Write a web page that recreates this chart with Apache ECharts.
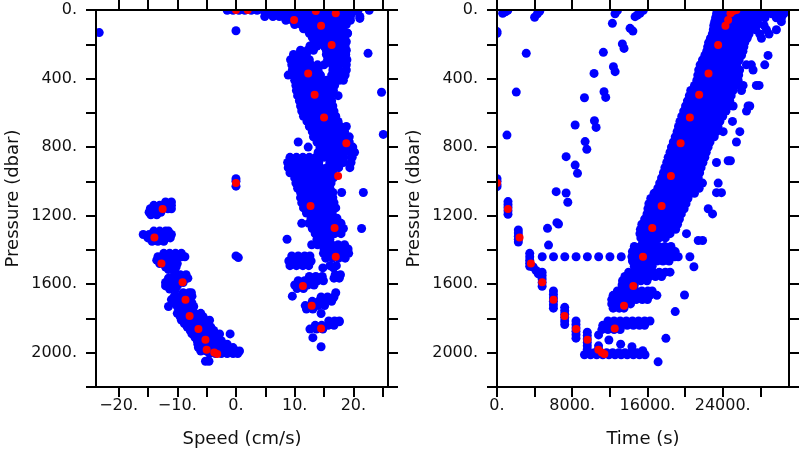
<!DOCTYPE html>
<html>
<head>
<meta charset="utf-8">
<script src="https://cdn.jsdelivr.net/npm/echarts@6/dist/echarts.min.js"></script>
<style>
html,body{margin:0;padding:0;background:#fff;}
#chart{width:800px;height:450px;}
</style>
</head>
<body>
<div id="chart"></div>
<script>
// ---------- tick / label values ----------
const pressureTicks = [0,200,400,600,800,1000,1200,1400,1600,1800,2000,2200];
const pressureLabels = [0,400,800,1200,1600,2000];
const speedTicks = [-20,-15,-10,-5,0,5,10,15,20,25];
const speedLabels = [-20,-10,0,10,20];
const timeTicks = [0,4000,8000,12000,16000,20000,24000,28000];
const timeLabels = [0,8000,16000,24000];

// ---------- red points (pressure, speed, time) ----------
const redPressure = [0,0,6,19,58,92,204,370,494,628,778,969,1010,1144,1272,1440,1611,1726,1858,1161,1327,1479,1588,1691,1786,1862,1924,1982,1998,2008];
const redSpeed = [0.0,2.0,13.6,17.0,9.9,14.5,16.3,12.3,13.4,15.0,18.8,17.4,0.0,12.7,16.8,17.0,11.4,12.9,14.5,-12.5,-13.9,-12.7,-9.1,-8.6,-7.9,-6.4,-5.2,-5.0,-3.7,-3.2];
const redTime = [25460,25200,25110,24830,24580,24290,23515,22493,21496,20510,19523,18493,0,17506,16510,15523,14495,13506,12520,1167,2400,3607,4806,6009,7175,8414,9613,10780,11141,11417];

// ---------- left panel blue: rows of [pressure, speed, speed, ...] ----------
const leftBandRows = [
[2,-1.5,-0.5,0.5,1.5,2.6,3.6,4.7,5.8,6.9,8.0,9.1,10.2,11.3,12.4,13.5,14.6,15.7,16.8,17.9,19.0,20.0,20.8,22.7],
[15,5.5,6.6,7.7,8.8,9.9,11.0,12.1,13.2,14.3,15.4,16.5,17.6,18.7,19.8],
[38,4.9,6.3,7.4,8.5,9.6,10.7,11.8,12.9,14.0,15.1,16.2,17.3,18.4,19.5,21.1],
[60,8.5,9.6,10.7,11.8,12.9,14.0,15.1,16.2,17.3,18.4,19.5],
[85,10.0,11.1,12.2,13.3,14.4,15.5,16.6,17.7,18.8],
[110,11.5,12.6,13.7,14.8,15.9,17.0,18.1],
[136,12.5,13.6,14.7,15.8,16.9,18.0,19.0],
[160,13.0,14.1,15.2,16.3,17.4,18.5],
[185,13.3,14.4,15.5,16.6,17.7,18.8],
[210,12.6,13.8,15.0,16.2,17.4,18.6],
[235,11.0,12.2,13.2,15.4,16.5,17.6,18.8],
[253,22.5],
[260,9.8,10.9,12.0,15.4,16.5,17.6,18.7],
[290,9.3,10.4,11.5,12.5,15.6,16.7,17.8,18.9],
[320,9.5,10.6,11.7,12.8,13.9,15.0,16.4,17.6,18.8],
[350,9.6,10.7,11.8,12.9,14.0,16.5,17.6,18.8],
[380,8.9,10.0,11.1,12.2,13.3,14.4,16.3,17.4,18.6],
[410,10.0,11.1,12.2,13.3,14.4,15.4,16.5,17.6,18.3],
[440,10.2,11.3,12.4,13.5,14.6,15.7,16.8],
[470,10.3,11.4,12.5,13.6,14.7,15.8,16.6],
[480,24.8],
[500,10.5,11.6,12.7,13.8,14.9,16.0,17.4],
[530,10.8,11.9,13.0,14.1,15.2,16.3],
[560,11.0,12.1,13.2,14.3,15.4,16.5],
[590,11.2,12.3,13.4,14.5,15.6,16.7],
[620,11.5,12.6,13.7,14.8,15.9,17.0],
[650,12.1,13.0,14.1,15.2,16.3,17.4],
[680,12.5,13.6,14.7,15.8,16.9,17.8,18.8],
[710,13.0,14.1,15.2,16.3,17.4,18.5],
[726,25.1],
[740,13.2,14.3,15.4,16.5,17.6,18.7,19.3],
[770,10.6,13.8,14.9,16.0,17.1,18.2,19.3],
[800,12.3,14.3,15.4,16.5,17.6,18.7,19.9],
[830,14.0,15.1,16.2,17.3,18.4,19.5,20.2],
[860,9.2,10.3,11.4,12.5,13.6,15.0,16.2,17.3,18.4,19.8],
[890,8.8,9.9,11.0,12.1,13.2,14.1,16.0,17.2,18.3,19.6],
[920,8.9,10.0,11.1,12.2,13.3,14.4,15.5,16.6,17.5,19.4],
[950,9.2,10.3,11.4,12.5,13.6,14.7,15.8,16.5],
[980,10.0,11.1,12.2,13.3,14.4,15.5,16.6],
[1010,10.2,11.3,12.4,13.5,14.6,15.7,16.2],
[1040,10.5,11.6,12.7,13.8,14.9,16.0],
[1065,11.0,12.1,13.2,14.3,15.4,16.5,18.0,21.7],
[1095,11.0,12.1,13.2,14.3,15.4,16.5],
[1125,11.2,12.3,13.4,14.5,15.6,16.7],
[1155,11.5,12.6,13.7,14.8,15.9,17.0],
[1185,12.0,13.1,14.2,15.3,16.4],
[1215,12.8,13.9,15.0,16.1,17.2],
[1245,11.2,12.4,13.5,14.6,15.7,16.8,17.9],
[1275,13.0,14.1,15.2,16.3,17.4,18.3,21.4],
[1305,13.5,14.6,15.7,16.8,17.9],
[1338,8.7,13.8,14.9,16.0],
[1370,12.9,13.9,15.2,16.3,17.4,18.5],
[1395,15.0,16.1,17.2,18.3,19.1],
[1420,14.9,16.0,17.1,18.2,19.2],
[1435,9.5,10.6,11.7,12.6],
[1448,15.3,16.4,17.5,18.6],
[1465,9.0,10.1,11.2,12.3,12.8],
[1492,9.2,10.3,11.4,12.4,16.0,17.1],
[1505,14.8,16.6],
[1545,16.9,17.8],
[1565,16.7,17.6],
[1555,12.5,13.6,14.7],
[1580,10.6,11.7,12.8,13.9,14.9],
[1605,10.0,11.1,12.2,13.3],
[1625,10.4,11.5],
[1650,17.0],
[1670,9.6],
[1675,14.5,15.6,16.7],
[1700,13.0,14.1,15.2,16.3],
[1725,11.8,12.9,14.0,15.1],
[1745,12.0,13.1],
[1771,14.5],
[1815,15.8,16.8,17.6],
[1840,13.5,14.6,15.7,16.7],
[1862,12.6,13.7,14.8],
[1912,13.1]
];

const leftNegRows = [
[1120,-12.0,-11.0],
[1140,-14.0,-13.0,-12.0,-11.0],
[1160,-14.6,-13.6,-12.6,-11.6,-11.0],
[1180,-14.8,-13.8,-12.8],
[1195,-14.5,-13.5],
[1290,-14.0,-13.0,-12.0,-11.5],
[1310,-15.8,-14.8,-13.8,-12.8,-11.8,-11.0],
[1330,-15.0,-14.0,-13.0,-12.0,-11.2],
[1350,-14.3,-13.3,-12.3],
[1420,-12.3,-11.3,-10.3,-9.3],
[1440,-13.3,-12.3,-11.3,-10.3,-9.3,-8.7],
[1460,-13.5,-12.5,-11.5,-10.5],
[1480,-13.0,-12.0,-11.0,-10.0],
[1500,-12.0,-11.0,-10.2],
[1515,-11.5,-10.5],
[1545,-10.5,-9.5,-8.5],
[1565,-11.5,-10.5,-9.5,-8.5,-8.2],
[1590,-12.0,-11.0,-10.0,-9.0],
[1610,-12.0,-11.0,-10.0],
[1628,-11.3,-10.3],
[1650,-9.0,-8.0,-7.6],
[1670,-10.5,-9.5,-8.5,-7.5],
[1690,-11.0,-10.0,-9.0,-8.0],
[1710,-10.5,-9.5,-8.5,-7.5],
[1730,-11.5,-10.0,-9.0,-8.0,-7.2],
[1750,-9.5,-8.5,-7.5],
[1770,-10.0,-9.0,-8.0,-7.0,-6.0],
[1790,-9.5,-8.5,-7.5,-6.5,-5.6],
[1810,-9.3,-8.3,-7.3,-6.3,-5.3,-4.5],
[1830,-8.8,-7.8,-6.8,-5.8,-4.8],
[1850,-8.3,-7.3,-6.3,-5.3,-4.3],
[1870,-7.8,-6.8,-5.8,-4.8,-3.8],
[1890,-7.5,-6.5,-5.5,-4.5,-3.5,-2.8,-1.0],
[1910,-7.0,-6.0,-5.0,-4.0,-3.0],
[1930,-6.6,-5.6,-4.6,-3.6,-2.5],
[1950,-6.5,-5.5,-4.5,-3.5,-2.5,-1.5],
[1970,-6.4,-5.4,-4.4,-3.4,-2.4,-1.4,-0.5],
[1990,-6.0,-5.0,-4.0,-3.0,-2.0,-1.0,0.0,0.6],
[2005,-4.5,-3.5,-2.5,-1.5,-0.5,0.3],
[2050,-5.2,-4.6]
];

// loose blue points [speed, pressure]
const leftLoosePts = [[-23.3,132],[0,121],[0,985],[0,1000],[0,1028],[0,1435],[0.4,1445],[21.1,49],[19.0,136],[14.5,1965],[17.6,1819]];

// ---------- right panel blue: rows of [pressure, time, time, ...] ----------
const rightBandRows = [
[3,23400,24050,24700,25350,26000,26650,27300,27950,28600,29250,29900,30550,31000],
[22,23350,24000,24650,25300,25950,26600,27250,27900,28550,29200,29850,30500],
[45,23250,23900,24550,25200,25850,26500,27150,27800,28500,29700,30250],
[68,23150,23800,24450,25100,25750,26400,27050,27700,30240],
[90,23050,23700,24350,25000,25650,26300,26950,27600,28400],
[115,23000,23650,24300,24950,25600,26250,26900,27500,28650,29710],
[140,22900,23550,24200,24850,25500,26150,26800,27940,28930],
[165,22700,23350,24000,24650,25300,25950,26600,28120],
[190,22500,23150,23800,24450,25100,25750,26350],
[215,22400,23050,23700,24350,25000,25650,26250],
[240,22300,22950,23600,24250,24900,25550,26150],
[265,22100,22750,23400,24050,24700,25350,26000,28820],
[292,21850,22500,23150,23800,24450,25100,25750],
[320,21600,22250,22900,23550,24200,24850,25500,26520,27050,28470],
[350,21450,22100,22750,23400,24050,24700,25350,25800,27230],
[380,21350,22000,22650,23300,23950,24600,25250,25700],
[410,21250,21900,22550,23200,23850,24500,25150,25640],
[440,21000,21650,22300,22950,23600,24250,24900,25400,26170,27580,27870],
[470,20600,21250,21900,22550,23200,23850,24500,25100,26000],
[500,20450,21100,21750,22400,23050,23700,24350,24900],
[530,20250,20900,21550,22200,22850,23500,24150,24750],
[560,20050,20700,21350,22000,22650,23300,23950,24600,25110,26700,26880],
[590,19850,20500,21150,21800,22450,23100,23750,24350,26530],
[620,19650,20300,20950,21600,22250,22900,23550,24000],
[650,19450,20100,20750,21400,22050,22700,23350,23700,25040],
[680,19300,19950,20600,21250,21900,22550,23200,23500],
[710,19150,19800,20450,21100,21750,22400,23050,23340,24050,25820],
[740,18950,19600,20250,20900,21550,22200,22850,23100],
[770,18750,19400,20050,20700,21350,22000,22650,25460],
[800,18550,19200,19850,20500,21150,21800,22450],
[830,18400,19050,19700,20350,21000,21650,22250],
[860,18200,18850,19500,20150,20800,21450,22100],
[880,24580,24820],
[890,18050,18700,19350,20000,20650,21300,21900,23340],
[920,17850,18500,19150,19800,20450,21100,21700],
[950,17700,18350,19000,19650,20300,20950,21550],
[980,17500,18150,18800,19450,20100,20750,21400],
[1010,17300,17950,18600,19250,19900,20550,21200,21850,23520],
[1040,17100,17750,18400,19050,19700,20350,21000,21500],
[1066,23340,23870],
[1070,16700,17350,18000,18650,19300,19950,20600,21000],
[1100,16350,17000,17650,18300,18950,19600,20300],
[1130,16150,16800,17450,18100,18750,19400,20100],
[1160,16050,16700,17350,18000,18650,19300,19900,22460],
[1190,15950,16600,17250,17900,18550,19200,19600,22920],
[1220,15700,16350,17000,17650,18300,18950,19400],
[1250,15400,16050,16700,17350,18000,18650,19200],
[1280,15250,15900,16550,17200,17850,18500,19000],
[1305,15200,15850,16500,17150,17800,18400,20150],
[1330,15300,15950,16600,17250,17900],
[1345,21400,21860],
[1355,15500,16150,16800],
[1380,14600,15250,15900,16550,17200,17850,18500],
[1410,14400,15050,15700,16350,17000,17650,18300,18950],
[1440,14350,15000,15650,16300,16950,17600,18250,18900,19270],
[1465,14400,15050,15700,16350,17000,17650,18300],
[1495,14600,15250,15900,16500],
[1530,14000,14650,15300,15950,16600,17250,17900,18400],
[1555,13600,14250,14900,15550,16200,16850,17500],
[1580,13350,14000,14650,15300,15950],
[1605,13300,13950,14600],
[1640,12800,13450,14100,14750,15400,16050,16500],
[1665,12350,13000,13650,14300,14950,15600,16250,17000],
[1690,12200,12850,13500,14150,14800,15450,16000],
[1715,12200,12850,13500,14200],
[1740,12350,13000,13500],
[1815,11800,12450,13100,13750,14400,15050,15700,16270],
[1840,11250,11900,12550,13200,13850,14500,15150,15700],
[1865,11150,11800,12450,13100],
[2000,9700,10350,11000,11650,12300,12950,13600,14250,14900,15550],
[2012,9300,9950,10600,11250,11900,12550,13200,13850,14500,15150,15740]
];

// first descent and level track [time, pressure]
const rightDescentPts = [
[0,985],[0,1000],[0,1018],[0,1031],
[1170,1118],[1170,1136],[1170,1154],[1170,1172],[1170,1192],
[2270,1284],[2270,1302],[2270,1320],[2270,1338],[2270,1354],
[3480,1420],[3480,1440],[3480,1460],[3480,1478],[3480,1496],
[3850,1500],[4150,1520],[4400,1540],
[4800,1530],[4800,1550],[4800,1570],[4800,1590],[4800,1612],
[6000,1640],[6000,1660],[6000,1680],[6000,1700],[6000,1720],[6000,1740],
[7200,1735],[7200,1755],[7200,1775],[7200,1795],[7200,1815],[7200,1835],
[8400,1815],[8400,1835],[8400,1855],[8400,1875],[8400,1895],[8400,1915],
[9600,1880],[9600,1900],[9600,1920],[9600,1940],[9600,1960],[9600,1980],
[10800,1896],[10800,1960],[10800,1980],
[4810,1440],[6010,1440],[7210,1440],[8410,1440],[9610,1440],[10810,1440],[12010,1440],[13210,1440],[14380,1440],[20510,1440],[20940,1498]
];

// sparse blue points [time, pressure]
const rightLoosePts = [
[600,19],[900,10],[1150,2],[0,126],[0,136],[3110,253],[2050,479],[1060,730],[4000,42],[4300,22],[4550,6],
[7350,856],[8310,905],[8560,953],[6290,1060],[7350,1068],[7530,1122],[8310,671],[9370,768],[9550,813],
[9300,512],[10360,646],[10540,685],[10320,370],[11380,477],[11560,510],[11310,247],[12380,331],[12560,360],
[12270,78],[13330,198],[13510,224],[12550,22],[12800,4],[14150,107],[14450,123],[14680,39],[14930,29],[15210,19],[15560,2],
[5370,1274],[5480,1372],[6370,1241],[6540,1249],
[11900,1926],[13150,1950],[14350,1965],[15500,1988],[17130,2053],[17960,1916],[18950,1760],[19940,1663]
];

// ---------- build point lists ----------
function rowsToPts(rows){
  const out=[];
  rows.forEach(r=>{ for(let i=1;i<r.length;i++) out.push([r[i], r[0]]); });
  return out;
}
const leftBlue = rowsToPts(leftBandRows).concat(rowsToPts(leftNegRows), leftLoosePts);
const rightBlue = rowsToPts(rightBandRows).concat(rightDescentPts, rightLoosePts);
const leftRed = redSpeed.map((s,i)=>[s, redPressure[i]]);
const rightRed = redTime.map((t,i)=>[t, redPressure[i]]);

// ---------- styling ----------
const FONT = 'DejaVu Sans';
const TXT = '#111';
const fmt = v => (v < 0 ? '\u2212' + Math.abs(v) : String(v)) + '.';
const lineS = {color:'#000', width:2};

function xAx(grid, min, max, ticks, labels, name, top){
  return {
    type:'value', gridIndex:grid, position: top?'top':'bottom', min:min, max:max, z:10,
    axisLine:{show:true, onZero:false, lineStyle:lineS},
    axisTick:{show:true, inside:false, length:10, lineStyle:lineS, customValues:ticks},
    axisLabel: top ? {show:false} : {show:true, customValues:labels, formatter:fmt, fontFamily:FONT, fontSize:16, color:TXT, margin:11},
    splitLine:{show:false},
    name: top ? '' : name, nameLocation:'middle', nameGap:43,
    nameTextStyle:{fontFamily:FONT, fontSize:18, color:TXT}
  };
}
function yAx(grid, right){
  return {
    type:'value', gridIndex:grid, position: right?'right':'left', min:0, max:2200, inverse:true, z:10,
    axisLine:{show:true, onZero:false, lineStyle:lineS},
    axisTick:{show:true, inside:false, length:10, lineStyle:lineS, customValues:pressureTicks},
    axisLabel: right ? {show:false} : {show:true, customValues:pressureLabels, formatter:fmt, fontFamily:FONT, fontSize:16, color:TXT, margin:19},
    splitLine:{show:false},
    name: right ? '' : 'Pressure (dbar)', nameLocation:'middle', nameGap:74, nameRotate:90,
    nameTextStyle:{fontFamily:FONT, fontSize:18, color:TXT}
  };
}

const blueStyle = {color:'#0000ff', opacity:1};
const redStyle = {color:'#ff0000', opacity:1};

const option = {
  animation:false,
  backgroundColor:'#ffffff',
  grid:[
    {left:96, top:10, width:292, height:377, containLabel:false, outerBoundsMode:'none'},
    {left:497, top:10, width:292, height:377, containLabel:false, outerBoundsMode:'none'}
  ],
  xAxis:[
    xAx(0, -23.85, 25.9, speedTicks, speedLabels, 'Speed (cm/s)', false),
    xAx(0, -23.85, 25.9, speedTicks, speedLabels, '', true),
    xAx(1, 0, 31050, timeTicks, timeLabels, 'Time (s)', false),
    xAx(1, 0, 31050, timeTicks, timeLabels, '', true)
  ],
  yAxis:[ yAx(0,false), yAx(0,true), yAx(1,false), yAx(1,true) ],
  graphic:[
    {type:'rect', z:5, silent:true, shape:{x:0,y:0,width:800,height:10}, style:{fill:'#fff'}},
    {type:'rect', z:5, silent:true, shape:{x:0,y:387,width:800,height:63}, style:{fill:'#fff'}},
    {type:'rect', z:5, silent:true, shape:{x:0,y:0,width:96,height:450}, style:{fill:'#fff'}},
    {type:'rect', z:5, silent:true, shape:{x:388,y:0,width:109,height:450}, style:{fill:'#fff'}},
    {type:'rect', z:5, silent:true, shape:{x:789,y:0,width:11,height:450}, style:{fill:'#fff'}}
  ],
  series:[
    {type:'scatter', xAxisIndex:0, yAxisIndex:0, data:leftBlue, symbol:'circle', symbolSize:9, itemStyle:blueStyle, clip:false, silent:true, z:2},
    {type:'scatter', xAxisIndex:0, yAxisIndex:0, data:leftRed, symbol:'circle', symbolSize:8, itemStyle:redStyle, clip:false, silent:true, z:3},
    {type:'scatter', xAxisIndex:2, yAxisIndex:2, data:rightBlue, symbol:'circle', symbolSize:9, itemStyle:blueStyle, clip:false, silent:true, z:2},
    {type:'scatter', xAxisIndex:2, yAxisIndex:2, data:rightRed, symbol:'circle', symbolSize:8, itemStyle:redStyle, clip:false, silent:true, z:3}
  ]
};
const chart = echarts.init(document.getElementById('chart'), null, {renderer:'canvas'});
chart.setOption(option);
</script>
</body>
</html>
